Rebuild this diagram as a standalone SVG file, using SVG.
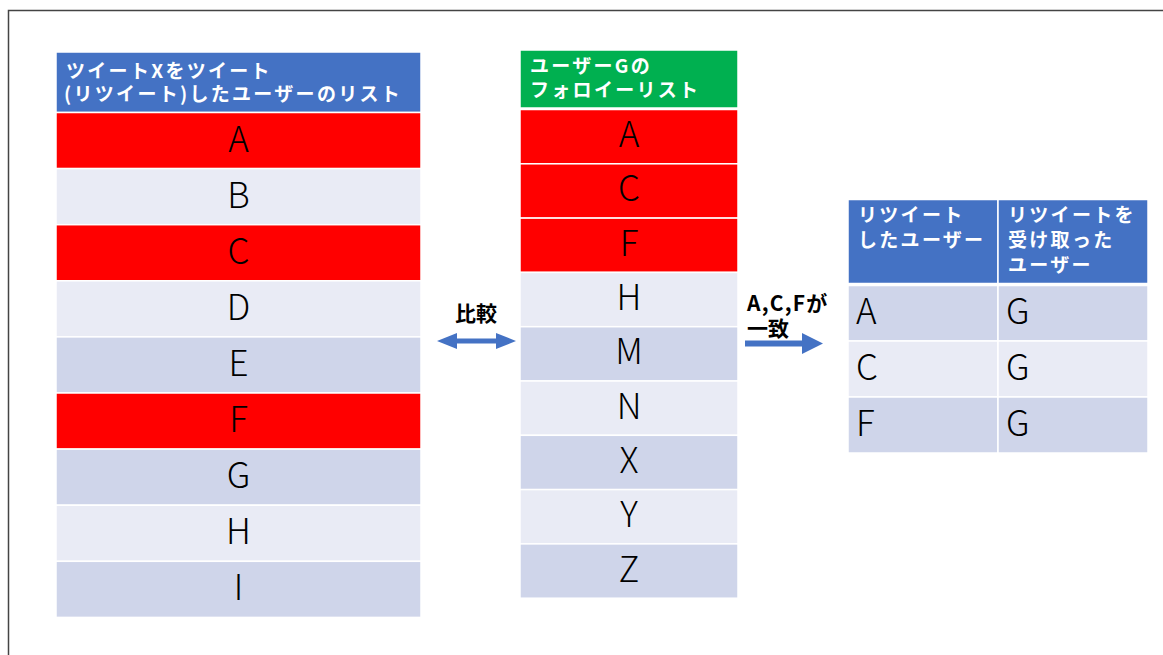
<svg xmlns="http://www.w3.org/2000/svg" width="1163" height="655" viewBox="0 0 1163 655">
<style>
.hdr{font-family:"Noto Sans CJK JP","Noto Sans",sans-serif;font-weight:700;font-size:19px;fill:#fff;letter-spacing:2.3px}
.cell{font-family:"Noto Sans CJK JP","Noto Sans",sans-serif;font-weight:300;font-size:35px;fill:#000}
.mid{text-anchor:middle}
.lbl{font-family:"Noto Sans CJK JP","Noto Sans",sans-serif;font-weight:700;font-size:21px;fill:#000}
.red{fill:#FF0000;stroke:#fff;stroke-width:1.5}
.lt{fill:#E9EBF5;stroke:#fff;stroke-width:1.5}
.dk{fill:#CFD5EA;stroke:#fff;stroke-width:1.5}
.blue{fill:#4472C4;stroke:#fff;stroke-width:1.5}
.green{fill:#00B050;stroke:#fff;stroke-width:1.5}
.arr{fill:#4472C4}
</style>
<rect width="1163" height="655" fill="#fff"/>
<rect x="8.5" y="10.5" width="1200" height="700" fill="none" stroke="#444" stroke-width="1.5"/>

<g id="table-retweeters">
<rect class="blue" x="56" y="52" width="365" height="60.5"/>
<text class="hdr" x="66" y="78">ツイートXをツイート</text>
<text class="hdr" x="64" y="101">(リツイート)したユーザーのリスト</text>
<rect class="red" x="56" y="112.5" width="365" height="56.1"/>
<rect class="lt" x="56" y="168.6" width="365" height="56.1"/>
<rect class="red" x="56" y="224.7" width="365" height="56.1"/>
<rect class="lt" x="56" y="280.8" width="365" height="56.1"/>
<rect class="dk" x="56" y="336.9" width="365" height="56.1"/>
<rect class="red" x="56" y="393" width="365" height="56.1"/>
<rect class="dk" x="56" y="449.1" width="365" height="56.1"/>
<rect class="lt" x="56" y="505.2" width="365" height="56.1"/>
<rect class="dk" x="56" y="561.3" width="365" height="56.1"/>
<text class="cell mid" x="238.5" y="152">A</text>
<text class="cell mid" x="238.5" y="208">B</text>
<text class="cell mid" x="238.5" y="264">C</text>
<text class="cell mid" x="238.5" y="320">D</text>
<text class="cell mid" x="238.5" y="376">E</text>
<text class="cell mid" x="238.5" y="432">F</text>
<text class="cell mid" x="238.5" y="488">G</text>
<text class="cell mid" x="238.5" y="544">H</text>
<text class="cell mid" x="238.5" y="600">I</text>
</g>

<g id="table-followees">
<rect class="green" x="520" y="50" width="218" height="58"/>
<text class="hdr" x="530" y="73">ユーザーGの</text>
<text class="hdr" x="530" y="97">フォロイーリスト</text>
<rect class="red" x="520" y="109.5" width="218" height="54.3"/>
<rect class="red" x="520" y="163.8" width="218" height="54.3"/>
<rect class="red" x="520" y="218.1" width="218" height="54.3"/>
<rect class="lt" x="520" y="272.4" width="218" height="54.3"/>
<rect class="dk" x="520" y="326.7" width="218" height="54.3"/>
<rect class="lt" x="520" y="381" width="218" height="54.3"/>
<rect class="dk" x="520" y="435.3" width="218" height="54.3"/>
<rect class="lt" x="520" y="489.6" width="218" height="54.3"/>
<rect class="dk" x="520" y="543.9" width="218" height="54.3"/>
<text class="cell mid" x="629" y="147">A</text>
<text class="cell mid" x="629" y="201">C</text>
<text class="cell mid" x="629" y="256">F</text>
<text class="cell mid" x="629" y="310">H</text>
<text class="cell mid" x="629" y="364">M</text>
<text class="cell mid" x="629" y="419">N</text>
<text class="cell mid" x="629" y="473">X</text>
<text class="cell mid" x="629" y="527">Y</text>
<text class="cell mid" x="629" y="582">Z</text>
</g>

<g id="table-result">
<rect class="blue" x="848" y="199.5" width="150" height="84"/>
<rect class="blue" x="998" y="199.5" width="150" height="84"/>
<text class="hdr" x="858" y="222">リツイート</text>
<text class="hdr" x="858" y="247">したユーザー</text>
<text class="hdr" x="1008" y="222">リツイートを</text>
<text class="hdr" x="1008" y="247">受け取った</text>
<text class="hdr" x="1008" y="272">ユーザー</text>
<rect class="dk" x="848" y="285.5" width="150" height="55.5"/>
<rect class="dk" x="998" y="285.5" width="150" height="55.5"/>
<rect class="lt" x="848" y="341" width="150" height="56"/>
<rect class="lt" x="998" y="341" width="150" height="56"/>
<rect class="dk" x="848" y="397" width="150" height="56"/>
<rect class="dk" x="998" y="397" width="150" height="56"/>
<text class="cell" x="856" y="324">A</text>
<text class="cell" x="1006" y="324">G</text>
<text class="cell" x="856" y="380">C</text>
<text class="cell" x="1006" y="380">G</text>
<text class="cell" x="856" y="436">F</text>
<text class="cell" x="1006" y="436">G</text>
</g>

<g id="connectors">
<polygon class="arr" points="437,341 457,333 457,338.5 496,338.5 496,333 516,341 496,349 496,343.5 457,343.5 457,349"/>
<text class="lbl" x="476" y="321" text-anchor="middle">比較</text>
<polygon class="arr" points="745,340.5 802,340.5 802,333 823,343.5 802,354 802,346.5 745,346.5"/>
<text class="lbl" x="747" y="311" letter-spacing="1.2">A,C,Fが</text>
<text class="lbl" x="747" y="336">一致</text>
</g>
</svg>
